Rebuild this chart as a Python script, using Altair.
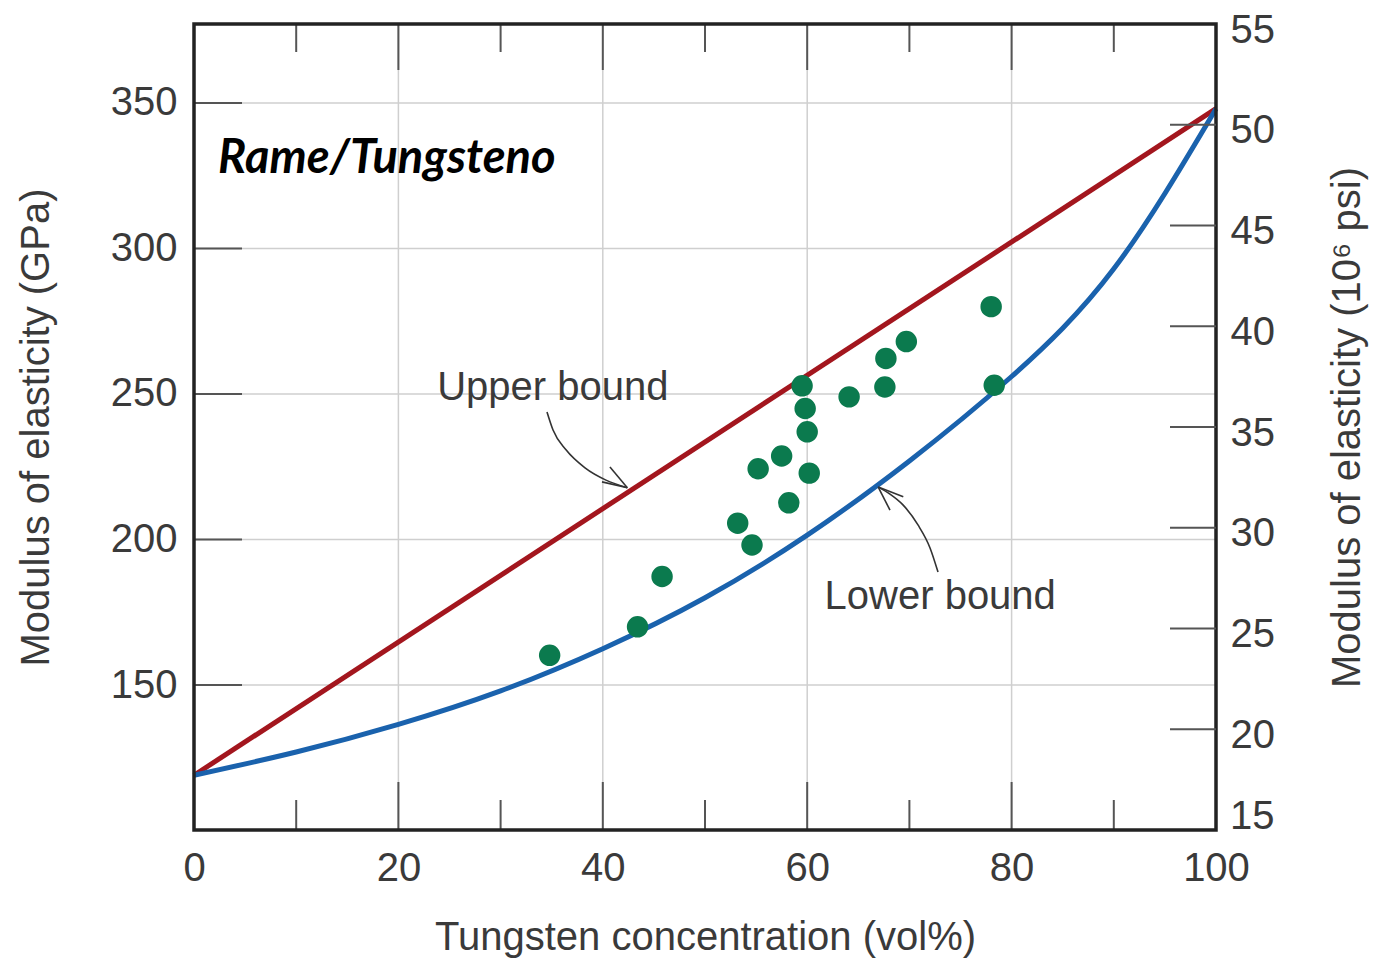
import altair as alt
import pandas as pd

# ---------------- data ----------------
tungsten_pct = [34.8, 43.4, 45.8, 53.2, 54.6, 55.2, 57.5, 58.2, 59.5, 59.8, 60.0, 60.2,
                64.1, 67.7, 67.6, 69.7, 78.0, 78.3]
modulus_gpa = [160.2, 170.0, 187.3, 205.6, 198.1, 224.3, 228.7, 212.6, 252.8, 245.0, 237.0, 222.8,
               249.0, 262.2, 252.4, 268.0, 280.0, 253.0]

upper_x = [0, 100]
upper_gpa = [119, 348]

lower_x = [0, 10, 20, 30, 40, 50, 60, 70, 80, 90, 100]
lower_gpa = [119, 127, 136.5, 148, 162.5, 180, 201.5, 227, 256, 293, 348]

x_label_values = [0, 20, 40, 60, 80, 100]
x_major = [20, 40, 60, 80]
x_minor = [10, 30, 50, 70, 90]
gpa_ticks = [150, 200, 250, 300, 350]
psi_labels = [20, 25, 30, 35, 40, 45, 50, 55]
psi_bottom_label = [15]
psi_ticks = [20, 25, 30, 35, 40, 45, 50]

# annotation arrows (data coordinates)
arrow_seg = ["up"] * 6 + ["up_b1"] * 2 + ["up_b2"] * 2 + ["lo"] * 6 + ["lo_b1"] * 2 + ["lo_b2"] * 2
arrow_x = [34.54, 35.13, 36.40, 38.26, 40.31, 42.40,
           42.40, 40.70, 42.40, 39.92,
           66.95, 68.10, 69.37, 70.84, 72.02, 72.80,
           66.95, 69.40, 66.95, 68.10]
arrow_gpa = [243.8, 237.6, 230.8, 224.6, 220.4, 217.8,
             217.8, 224.9, 217.8, 219.8,
             218.0, 215.6, 211.9, 205.0, 197.1, 188.8,
             218.0, 214.7, 218.0, 210.1]
arrow_order = [0, 1, 2, 3, 4, 5, 0, 1, 0, 1, 0, 1, 2, 3, 4, 5, 0, 1, 0, 1]

label_text = ["Upper bound", "Lower bound"]
label_x = [23.8, 61.7]
label_gpa = [252.1, 180.2]

title_text = ["Rame/Tungsteno"]
title_x = [2.35]
title_gpa = [330.8]

# ---------------- chart ----------------
W, H = 1022, 806
FONT = "Liberation Sans"
TXT = "#3a3a3a"
GRID = "#cfcfcf"
TICK = "#555555"

xs = alt.Scale(domain=[0, 100], nice=False, zero=False)
ys = alt.Scale(domain=[100.2, 377.1], nice=False, zero=False)
ps = alt.Scale(domain=[15, 55], nice=False, zero=False)

x_axis = alt.Axis(values=x_label_values, ticks=False, domain=False, grid=False,
                  labelFontSize=40, labelFont=FONT, labelColor=TXT, labelPadding=18,
                  labelFlush=False, format="d",
                  title="Tungsten concentration (vol%)", titleFont=FONT, titleFontSize=40,
                  titleFontWeight="normal", titleColor=TXT, titlePadding=29)
y_axis = alt.Axis(values=gpa_ticks, ticks=False, domain=False, grid=False,
                  labelFontSize=40, labelFont=FONT, labelColor=TXT, labelPadding=17,
                  format="d",
                  title="Modulus of elasticity (GPa)", titleFont=FONT, titleFontSize=40,
                  titleFontWeight="normal", titleColor=TXT, titlePadding=54)
psi_axis = alt.Axis(orient="right", values=psi_labels, ticks=False, domain=False, grid=False,
                    labelFontSize=40, labelFont=FONT, labelColor=TXT, labelPadding=14,
                    labelOffset=6, format="d",
                    title="Modulus of elasticity (10⁶ psi)", titleFont=FONT, titleFontSize=40,
                    titleFontWeight="normal", titleColor=TXT, titlePadding=93, titleAngle=270)

X = alt.X("x:Q", scale=xs, axis=x_axis)
Y = alt.Y("gpa:Q", scale=ys, axis=y_axis)
P = alt.Y("psi:Q", scale=ps, axis=psi_axis)

df_xmaj = pd.DataFrame({"x": x_major})
df_xmin = pd.DataFrame({"x": x_minor})
df_gpa = pd.DataFrame({"gpa": gpa_ticks})
df_psi = pd.DataFrame({"psi": psi_ticks})

vgrid = alt.Chart(df_xmaj).mark_rule(color=GRID, strokeWidth=1.5).encode(
    x=X, y=alt.value(0), y2=alt.value(H))
hgrid = alt.Chart(df_gpa).mark_rule(color=GRID, strokeWidth=1.5).encode(
    y=Y, x=alt.value(0), x2=alt.value(W))
left_ticks = alt.Chart(df_gpa).mark_rule(color=TICK, strokeWidth=2).encode(
    y=Y, x=alt.value(0), x2=alt.value(48))
top_major = alt.Chart(df_xmaj).mark_rule(color=TICK, strokeWidth=2).encode(
    x=X, y=alt.value(0), y2=alt.value(46))
bot_major = alt.Chart(df_xmaj).mark_rule(color=TICK, strokeWidth=2).encode(
    x=X, y=alt.value(H - 48), y2=alt.value(H))
top_minor = alt.Chart(df_xmin).mark_rule(color=TICK, strokeWidth=2).encode(
    x=X, y=alt.value(0), y2=alt.value(28))
bot_minor = alt.Chart(df_xmin).mark_rule(color=TICK, strokeWidth=2).encode(
    x=X, y=alt.value(H - 30), y2=alt.value(H))

upper = alt.Chart(pd.DataFrame({"x": upper_x, "gpa": upper_gpa})).mark_line(
    color="#a3161e", strokeWidth=5).encode(x=X, y=Y)
lower = alt.Chart(pd.DataFrame({"x": lower_x, "gpa": lower_gpa})).mark_line(
    color="#1a62ad", strokeWidth=5, interpolate="natural").encode(x=X, y=Y)

points = alt.Chart(pd.DataFrame({"x": tungsten_pct, "gpa": modulus_gpa})).mark_circle(
    color="#0b7a4e", size=460, opacity=1).encode(x=X, y=Y)

arrows = alt.Chart(pd.DataFrame({"x": arrow_x, "gpa": arrow_gpa, "seg": arrow_seg,
                                 "ord": arrow_order})).mark_line(
    color="#333333", strokeWidth=1.6, interpolate="monotone").encode(
    x=X, y=Y, detail="seg:N", order="ord:Q")

labels = alt.Chart(pd.DataFrame({"x": label_x, "gpa": label_gpa, "t": label_text})).mark_text(
    align="left", baseline="middle", font=FONT, fontSize=40, color=TXT).encode(
    x=X, y=Y, text="t:N")

title = alt.Chart(pd.DataFrame({"x": title_x, "gpa": title_gpa, "t": title_text})).mark_text(
    align="left", baseline="middle", font="Lato", fontSize=47, fontWeight="bold",
    fontStyle="italic", color="#000000").encode(x=X, y=Y, text="t:N")

frame = alt.Chart(pd.DataFrame({"k": [0]})).mark_rect(
    filled=False, stroke="#222222", strokeWidth=3.5).encode(
    x=alt.value(0), x2=alt.value(W), y=alt.value(0), y2=alt.value(H))

left_group = alt.layer(vgrid, hgrid, left_ticks, top_major, bot_major, top_minor, bot_minor,
                       upper, lower, points, arrows, labels, title, frame)

right_ticks = alt.Chart(df_psi).mark_rule(color=TICK, strokeWidth=2).encode(
    y=P, x=alt.value(W - 46), x2=alt.value(W))
right_bottom = alt.Chart(pd.DataFrame({"psi": psi_bottom_label})).mark_text(
    align="left", baseline="middle", font=FONT, fontSize=40, color=TXT, dy=-13).encode(
    y=P, x=alt.value(W + 14), text=alt.Text("psi:Q", format="d"))

right_group = alt.layer(right_ticks, right_bottom)

chart = alt.layer(left_group, right_group).resolve_scale(y="independent").properties(
    width=W, height=H,
    autosize=alt.AutoSizeParams(type="none"),
    padding={"left": 186, "top": 16, "right": 154, "bottom": 131},
).configure_view(stroke=None).configure(background="white")

chart.save("out.html", embed_options={"renderer": "svg", "actions": False})
